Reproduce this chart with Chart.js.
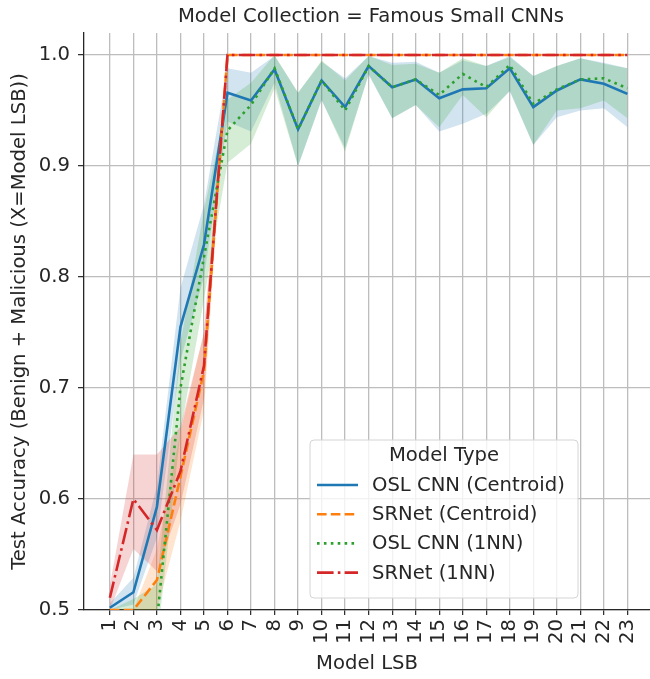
<!DOCTYPE html>
<html>
<head>
<meta charset="utf-8">
<script src="https://cdn.jsdelivr.net/npm/chart.js@4/dist/chart.umd.min.js"></script>
<style>
  html, body { margin: 0; padding: 0; background: #ffffff; }
  #wrap { width: 650px; height: 679px; position: relative; }
</style>
</head>
<body>
<div id="wrap"><canvas id="accChart"></canvas></div>
<script>
// x categories and y ticks
const lsb = [1, 2, 3, 4, 5, 6, 7, 8, 9, 10, 11, 12, 13, 14, 15, 16, 17, 18, 19, 20, 21, 22, 23];
const yTicks = [0.5, 0.6, 0.7, 0.8, 0.9, 1.0];
const seriesNames = ["OSL CNN (Centroid)", "SRNet (Centroid)", "OSL CNN (1NN)", "SRNet (1NN)"];

// OSL CNN (Centroid): mean and CI band
const oslCentroid = [0.502, 0.516, 0.593, 0.755, 0.829, 0.966, 0.959, 0.987, 0.933, 0.977, 0.953, 0.990, 0.971, 0.978, 0.961, 0.969, 0.970, 0.988, 0.953, 0.968, 0.978, 0.974, 0.965];
const oslCentroidLow = [0.500, 0.505, 0.565, 0.725, 0.800, 0.940, 0.931, 0.975, 0.900, 0.959, 0.916, 0.982, 0.943, 0.955, 0.931, 0.938, 0.947, 0.967, 0.919, 0.944, 0.950, 0.952, 0.935];
const oslCentroidHigh = [0.506, 0.529, 0.612, 0.790, 0.865, 0.988, 0.984, 0.999, 0.966, 0.994, 0.979, 0.999, 0.993, 0.994, 0.984, 0.995, 0.990, 0.999, 0.981, 0.990, 0.997, 0.993, 0.988];

// SRNet (Centroid)
const srnetCentroid = [0.500, 0.500, 0.527, 0.620, 0.715, 1, 1, 1, 1, 1, 1, 1, 1, 1, 1, 1, 1, 1, 1, 1, 1, 1, 1];
const srnetCentroidLow = [0.500, 0.500, 0.500, 0.580, 0.680, 1, 1, 1, 1, 1, 1, 1, 1, 1, 1, 1, 1, 1, 1, 1, 1, 1, 1];
const srnetCentroidHigh = [0.500, 0.500, 0.555, 0.660, 0.750, 1, 1, 1, 1, 1, 1, 1, 1, 1, 1, 1, 1, 1, 1, 1, 1, 1, 1];

// OSL CNN (1NN)
const oslNN = [0.490, 0.490, 0.490, 0.700, 0.818, 0.932, 0.955, 0.988, 0.933, 0.977, 0.950, 0.990, 0.971, 0.978, 0.964, 0.983, 0.971, 0.991, 0.956, 0.969, 0.978, 0.979, 0.970];
const oslNNLow = [0.470, 0.470, 0.470, 0.660, 0.780, 0.903, 0.920, 0.970, 0.900, 0.960, 0.913, 0.983, 0.943, 0.955, 0.935, 0.964, 0.944, 0.968, 0.919, 0.950, 0.952, 0.959, 0.943];
const oslNNHigh = [0.500, 0.510, 0.523, 0.740, 0.860, 0.960, 0.975, 1.000, 0.966, 0.995, 0.977, 0.999, 0.991, 0.992, 0.984, 0.997, 0.990, 0.998, 0.981, 0.990, 0.997, 0.992, 0.988];

// SRNet (1NN)
const srnetNN = [0.511, 0.600, 0.572, 0.625, 0.720, 1, 1, 1, 1, 1, 1, 1, 1, 1, 1, 1, 1, 1, 1, 1, 1, 1, 1];
const srnetNNLow = [0.500, 0.555, 0.535, 0.595, 0.690, 1, 1, 1, 1, 1, 1, 1, 1, 1, 1, 1, 1, 1, 1, 1, 1, 1, 1];
const srnetNNHigh = [0.522, 0.640, 0.640, 0.665, 0.750, 1, 1, 1, 1, 1, 1, 1, 1, 1, 1, 1, 1, 1, 1, 1, 1, 1, 1];

const FONT = "'DejaVu Sans', sans-serif";
const TEXT = "#262626";
const LW = 2.6;

const styles = [
  { color: "#1f77b4", band: "rgba(31, 119, 180, 0.2)", dash: [] },
  { color: "#ff7f0e", band: "rgba(255, 127, 14, 0.2)", dash: [9.6, 4.2] },
  { color: "#2ca02c", band: "rgba(44, 160, 44, 0.2)", dash: [2.6, 4.3] },
  { color: "#d62728", band: "rgba(214, 39, 40, 0.2)", dash: [16.6, 4.2, 2.6, 4.2] }
];

const means = [oslCentroid, srnetCentroid, oslNN, srnetNN];
const lows = [oslCentroidLow, srnetCentroidLow, oslNNLow, srnetNNLow];
const highs = [oslCentroidHigh, srnetCentroidHigh, oslNNHigh, srnetNNHigh];

const toPoints = (arr) => lsb.map((x, i) => ({ x: x, y: arr[i] }));

const datasets = [];
// bands first (pairs: high then low filled to previous)
means.forEach((m, k) => {
  datasets.push({
    label: seriesNames[k] + " hi",
    data: toPoints(highs[k]),
    borderWidth: 0,
    pointRadius: 0,
    fill: false,
    order: 20 - k * 2
  });
  datasets.push({
    label: seriesNames[k] + " lo",
    data: toPoints(lows[k]),
    borderWidth: 0,
    pointRadius: 0,
    backgroundColor: styles[k].band,
    fill: "-1",
    order: 19 - k * 2
  });
});
// mean lines, red on top
means.forEach((m, k) => {
  datasets.push({
    label: seriesNames[k],
    data: toPoints(m),
    borderColor: styles[k].color,
    borderWidth: LW,
    borderDash: styles[k].dash,
    borderCapStyle: "butt",
    pointRadius: 0,
    tension: 0,
    fill: false,
    order: 3 - k
  });
});

const overlayPlugin = {
  id: "overlay",
  afterDraw(chart) {
    const ctx = chart.ctx;
    const area = chart.chartArea;
    ctx.save();
    // facet title
    ctx.fillStyle = TEXT;
    ctx.font = "19.6px " + FONT;
    ctx.textAlign = "center";
    ctx.textBaseline = "alphabetic";
    ctx.fillText("Model Collection = Famous Small CNNs", 371, 22);

    // legend box
    const bx = 310, by = 440, bw = 268, bh = 158, r = 4;
    ctx.beginPath();
    ctx.moveTo(bx + r, by);
    ctx.arcTo(bx + bw, by, bx + bw, by + bh, r);
    ctx.arcTo(bx + bw, by + bh, bx, by + bh, r);
    ctx.arcTo(bx, by + bh, bx, by, r);
    ctx.arcTo(bx, by, bx + bw, by, r);
    ctx.closePath();
    ctx.fillStyle = "rgba(255, 255, 255, 0.8)";
    ctx.fill();
    ctx.strokeStyle = "#d4d4d4";
    ctx.lineWidth = 1;
    ctx.stroke();

    ctx.fillStyle = TEXT;
    ctx.textAlign = "center";
    ctx.textBaseline = "middle";
    ctx.fillText("Model Type", bx + bw / 2, 456);
    ctx.textAlign = "left";
    seriesNames.forEach((name, k) => {
      const y = 485 + k * 29.2;
      ctx.beginPath();
      ctx.strokeStyle = styles[k].color;
      ctx.lineWidth = LW;
      ctx.lineCap = "butt";
      ctx.setLineDash(styles[k].dash);
      ctx.moveTo(317, y);
      ctx.lineTo(358, y);
      ctx.stroke();
      ctx.setLineDash([]);
      ctx.fillStyle = TEXT;
      ctx.fillText(name, 372, y + 1);
    });
    ctx.restore();
  }
};

new Chart(document.getElementById("accChart"), {
  type: "line",
  data: { datasets: datasets },
  options: {
    responsive: true,
    maintainAspectRatio: false,
    animation: false,
    events: [],
    layout: { padding: { top: 33, left: 0, right: 0, bottom: 0 } },
    plugins: {
      legend: { display: false },
      tooltip: { enabled: false },
      filler: { drawTime: "beforeDatasetsDraw" }
    },
    scales: {
      x: {
        type: "linear",
        min: -0.1,
        max: 23.96,
        afterBuildTicks(scale) {
          scale.ticks = lsb.map((v) => ({ value: v }));
        },
        afterFit(scale) {
          scale.height = 69;
          scale.paddingLeft = 0;
          scale.paddingRight = 0;
        },
        grid: {
          color: "#bdbdbd",
          lineWidth: 1.3,
          tickColor: TEXT,
          tickLength: 5,
          tickWidth: 1.2
        },
        border: { display: true, color: TEXT, width: 1.3 },
        ticks: {
          color: TEXT,
          font: { family: FONT, size: 19.6 },
          minRotation: 90,
          maxRotation: 90,
          autoSkip: false,
          padding: 4,
          callback(value) {
            return String(value);
          }
        },
        title: {
          display: true,
          text: "Model LSB",
          color: TEXT,
          font: { family: FONT, size: 19.6 },
          padding: { top: 0, bottom: 3 }
        }
      },
      y: {
        type: "linear",
        min: 0.5,
        max: 1.0198,
        afterBuildTicks(scale) {
          scale.ticks = yTicks.map((v) => ({ value: v }));
        },
        afterFit(scale) {
          scale.width = 84;
          scale.paddingTop = 0;
          scale.paddingBottom = 0;
        },
        grid: {
          color: "#bdbdbd",
          lineWidth: 1.3,
          tickColor: TEXT,
          tickLength: 6,
          tickWidth: 1.2
        },
        border: { display: true, color: TEXT, width: 1.3 },
        ticks: {
          color: TEXT,
          font: { family: FONT, size: 19.6 },
          padding: 8,
          callback(value) {
            return Number(value).toFixed(1);
          }
        },
        title: {
          display: true,
          text: "Test Accuracy (Benign + Malicious (X=Model LSB))",
          color: TEXT,
          font: { family: FONT, size: 19.6 },
          padding: { top: 8, bottom: 0 }
        }
      }
    }
  },
  plugins: [overlayPlugin]
});
</script>
</body>
</html>
